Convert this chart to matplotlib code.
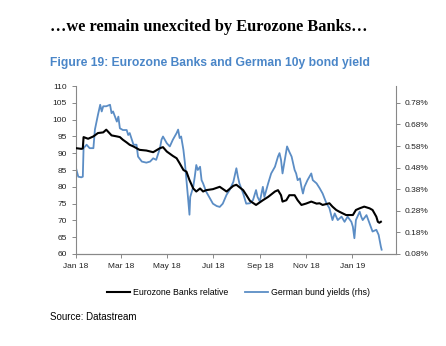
import matplotlib
matplotlib.use('Agg')
from matplotlib import pyplot as plt
import matplotlib.dates as mdates
from matplotlib.ticker import FuncFormatter
import numpy as np
import pandas as pd

# days since 1 Jan 2018
bank_days = [0, 7, 9, 10, 16, 23, 29, 36, 40, 47, 54, 58, 62, 67, 71, 76, 84, 93, 102, 111,
             115, 120, 128, 133, 137, 142, 146, 150, 155, 159, 164, 168, 172, 181, 190, 199,
             208, 212, 221, 225, 230, 238, 247, 254, 263, 267, 271, 273, 278, 282, 289, 293,
             298, 304, 311, 318, 322, 326, 335, 339, 344, 348, 357, 366, 370, 375, 381, 388,
             392, 397, 399, 401, 403]
banks_rel = [91.5, 91.3, 91.4, 94.8, 94.3, 95.0, 96.0, 96.2, 97.0, 95.3, 95.0, 94.8, 94.0, 93.2,
             92.5, 92.0, 91.0, 90.8, 90.3, 91.5, 91.8, 90.5, 89.2, 88.5, 87.0, 85.0, 84.5, 82.0,
             79.5, 78.6, 79.5, 78.6, 79.0, 79.3, 80.0, 78.6, 80.3, 80.6, 79.0, 77.6, 75.8, 74.6,
             76.0, 77.0, 78.6, 79.0, 77.5, 75.6, 76.0, 77.5, 77.5, 76.0, 74.6, 75.0, 75.6, 75.0,
             75.1, 74.6, 75.1, 74.1, 73.1, 72.6, 71.6, 71.6, 73.1, 73.6, 74.1, 73.6, 73.1, 71.1,
             69.6, 69.3, 69.6]

bund_days = [0, 3, 7, 9, 10, 14, 18, 23, 25, 29, 32, 34, 36, 40, 45, 47, 49, 54, 56, 58, 62, 67,
             69, 71, 76, 80, 82, 87, 93, 98, 102, 106, 111, 113, 115, 120, 124, 128, 133, 135,
             137, 139, 142, 144, 146, 148, 150, 151, 155, 157, 159, 161, 164, 166, 168, 172, 177,
             181, 186, 190, 194, 199, 203, 208, 212, 214, 216, 221, 225, 230, 234, 238, 240, 243,
             247, 249, 254, 258, 263, 267, 269, 271, 273, 276, 279, 282, 285, 287, 289, 291, 293,
             296, 298, 300, 302, 306, 311, 313, 318, 322, 326, 331, 335, 339, 342, 346, 351, 355,
             359, 364, 366, 368, 370, 375, 377, 379, 384, 388, 392, 397, 400, 403, 404]
bund_yield = [0.477, 0.438, 0.435, 0.438, 0.570, 0.586, 0.570, 0.570, 0.656, 0.724, 0.771, 0.740,
              0.764, 0.764, 0.771, 0.732, 0.740, 0.693, 0.716, 0.662, 0.654, 0.654, 0.631, 0.640,
              0.586, 0.586, 0.531, 0.508, 0.503, 0.508, 0.523, 0.516, 0.570, 0.609, 0.624, 0.593,
              0.578, 0.609, 0.640, 0.656, 0.617, 0.624, 0.562, 0.500, 0.422, 0.344, 0.262, 0.344,
              0.391, 0.438, 0.492, 0.469, 0.484, 0.422, 0.407, 0.369, 0.338, 0.313, 0.302, 0.298,
              0.313, 0.354, 0.376, 0.414, 0.477, 0.438, 0.407, 0.360, 0.313, 0.315, 0.330, 0.376,
              0.344, 0.323, 0.391, 0.344, 0.407, 0.453, 0.484, 0.531, 0.547, 0.516, 0.453, 0.516,
              0.578, 0.553, 0.531, 0.500, 0.469, 0.453, 0.422, 0.430, 0.391, 0.360, 0.391, 0.422,
              0.453, 0.422, 0.407, 0.385, 0.360, 0.315, 0.292, 0.237, 0.268, 0.237, 0.253, 0.229,
              0.253, 0.229, 0.206, 0.153, 0.237, 0.276, 0.253, 0.237, 0.260, 0.222, 0.184, 0.192,
              0.169, 0.114, 0.100]

start = pd.Timestamp('2018-01-01')
bank_dates = start + pd.to_timedelta(bank_days, unit='D')
bund_dates = start + pd.to_timedelta(bund_days, unit='D')

plt.rcParams['font.family'] = ['Liberation Sans', 'DejaVu Sans']

fig = plt.figure(figsize=(4.46, 3.46), dpi=100)
ax = fig.add_axes([0.1704, 0.2659, 0.7175, 0.4855])
ax2 = ax.twinx()

blue = '#5B8DC5'
ax.plot(bank_dates, banks_rel, color='black', lw=1.5, label='Eurozone Banks relative', zorder=3)
ax2.plot(bund_dates, bund_yield, color=blue, lw=1.3, label='German bund yields (rhs)')
ax.set_zorder(ax2.get_zorder() + 1)
ax.patch.set_visible(False)

ax.set_ylim(60, 110)
ax.set_yticks(np.arange(60, 111, 5))
ax2.set_ylim(0.08, 0.08 + 50 * 0.7 / 45)
ax2.set_yticks(np.arange(0.08, 0.79, 0.10))
ax2.yaxis.set_major_formatter(FuncFormatter(lambda v, p: '%.2f%%' % v))

ax.set_xlim(pd.Timestamp('2018-01-01'), pd.Timestamp('2019-02-28'))
ax.xaxis.set_major_locator(mdates.MonthLocator(bymonth=[1, 3, 5, 7, 9, 11]))
ax.xaxis.set_major_formatter(mdates.DateFormatter('%b %y'))

for a in (ax, ax2):
    for s in a.spines.values():
        s.set_color('#888888')
        s.set_linewidth(0.8)
    a.spines['top'].set_visible(False)
    a.tick_params(labelsize=6, colors='#888888', labelcolor='#222222', length=3, width=0.7)
ax.spines['right'].set_visible(False)
ax2.spines['left'].set_visible(False)

h1, l1 = ax.get_legend_handles_labels()
h2, l2 = ax2.get_legend_handles_labels()
fig.legend(h1 + h2, l1 + l2, loc='center', bbox_to_anchor=(0.535, 0.155), ncol=2,
           frameon=False, fontsize=6.3, handlelength=2.6, columnspacing=2.0, handletextpad=0.3)

fig.text(0.112, 0.922, '\u2026we remain unexcited by Eurozone Banks\u2026', family='Liberation Serif',
         fontweight='bold', fontsize=11.8, va='center', ha='left')
fig.text(0.112, 0.818, 'Figure 19: Eurozone Banks and German 10y bond yield', fontweight='bold',
         fontsize=8.7, color='#4A86C8', va='center', ha='left')
fig.text(0.112, 0.083, 'Source: Datastream', fontsize=7, va='center', ha='left')

fig.savefig('out.png', dpi=100)
